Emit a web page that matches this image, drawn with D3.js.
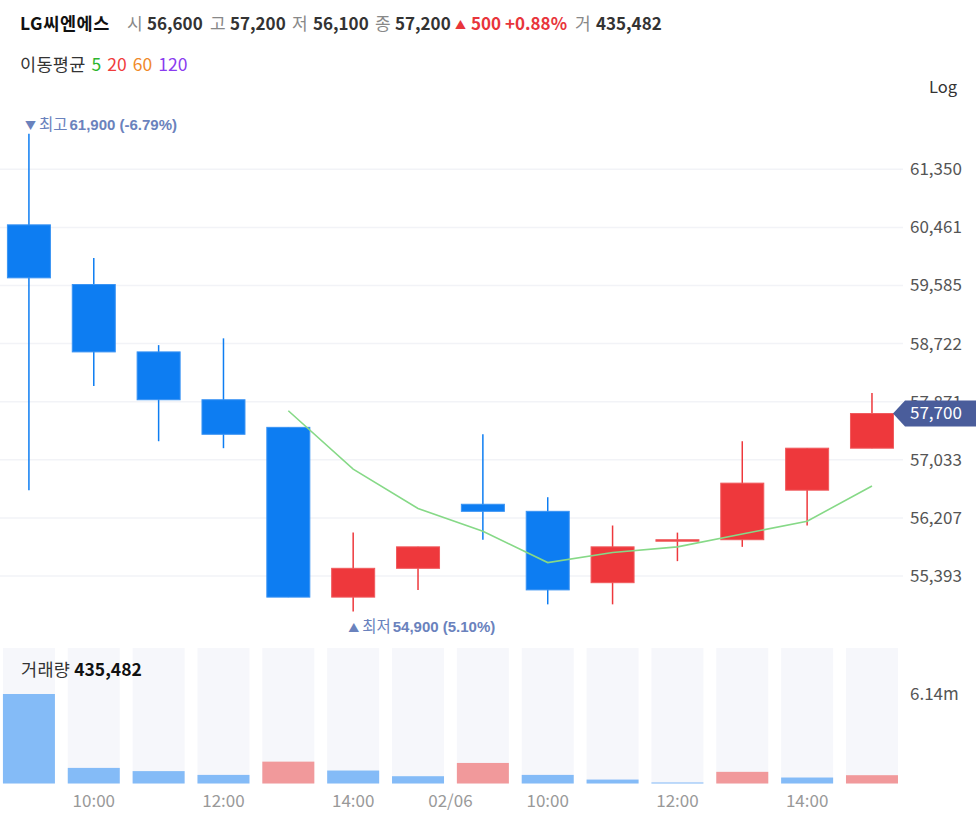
<!DOCTYPE html>
<html>
<head>
<meta charset="utf-8">
<script src="https://cdn.jsdelivr.net/npm/d3@7/dist/d3.min.js"></script>
<style>
  html, body { margin: 0; padding: 0; background: #fff; }
  svg { display: block; font-family: "Noto Sans CJK KR", "Noto Sans", sans-serif; }
</style>
</head>
<body>
<svg id="chart" width="976" height="832"></svg>
<script>
// ---------------- DATA ----------------
const categories = [
  "02/05 09:00", "02/05 10:00", "02/05 11:00", "02/05 12:00", "02/05 13:00", "02/05 14:00", "02/05 15:00",
  "02/06 09:00", "02/06 10:00", "02/06 11:00", "02/06 12:00", "02/06 13:00", "02/06 14:00", "02/06 15:00"
];
const opens  = [60500, 59600, 58600, 57900, 57500, 55100, 55500, 56400, 56300, 55300, 55900, 55900, 56600, 57200];
const highs  = [61900, 60000, 58700, 58800, 57500, 56000, 55800, 57400, 56500, 56100, 56000, 57300, 57200, 58000];
const lows   = [56600, 58100, 57300, 57200, 55100, 54900, 55200, 55900, 55000, 55000, 55600, 55800, 56100, 57200];
const closes = [59700, 58600, 57900, 57400, 55100, 55500, 55800, 56300, 55200, 55800, 55900, 56700, 57200, 57700];
const ma5    = [null, null, null, null, 57740, 56900, 56340, 56020, 55580, 55720, 55800, 55980, 56160, 56660];
const volumes = [6140000, 1070000, 850000, 590000, 1500000, 890000, 500000, 1410000, 590000, 270000, 70000, 800000, 410000, 570000];
const volumeDir = ["down","down","down","down","up","down","down","up","down","down","down","up","down","up"];
const priceTicks = [61350, 60461, 59585, 58722, 57871, 57033, 56207, 55393];
const volumeTicks = [6140000];
const volumeTickLabels = ["6.14m"];
const timeTicks = ["02/05 10:00", "02/05 12:00", "02/05 14:00", "02/06 10:00", "02/06 12:00", "02/06 14:00"];
const dateLabel = "02/06";
const lastPrice = 57700;
const highInfo = { value: 61900, pct: "-6.79%" };
const lowInfo = { value: 54900, pct: "5.10%" };
const header = {
  name: "LG씨엔에스",
  open: "56,600", high: "57,200", low: "56,100", close: "57,200",
  change: "500", changePct: "+0.88%", volume: "435,482"
};
const maPeriods = ["5", "20", "60", "120"];
const volumeTitle = "435,482";

// ---------------- STYLE ----------------
const C = {
  up: "#ee383c", down: "#0d7df2",
  upEdge: "#f05a5d", downEdge: "#3a93f3",
  volUp: "#f1999b", volDown: "#84bbf7",
  volBg: "#f6f7fb", grid: "#f2f3f7",
  ma5: "#86d987", text: "#333", axis: "#555", xaxis: "#999",
  tag: "#4a5d9b", mark: "#6a82bd"
};
const maColors = ["#2db52d", "#f03c3c", "#f08a2a", "#8a3cf0"];

const svg = d3.select("#chart");

// ---------------- SCALES ----------------
const x = d3.scaleBand().domain(categories).range([-3.5, 904.4]).padding(0);
const cx = c => x(c) + x.bandwidth() / 2;
const y = d3.scaleLog().domain([61350, 55393]).range([169.3, 576]);
const vy = d3.scaleLinear().domain([0, 6140000]).range([783.5, 694]);
const plotRight = 903;

// ---------------- HEADER ----------------
const hdr = svg.append("g").attr("font-size", 17);
const hy = 30;
hdr.append("text").attr("x", 20).attr("y", hy).attr("font-weight", 700).attr("fill", "#111")
  .attr("font-size", 17.5).attr("letter-spacing", 0.6).text(header.name);
const hparts = [
  { x: 127, t: "시", w: 400, c: "#888" }, { x: 147, t: header.open, w: 700, c: "#333" },
  { x: 210, t: "고", w: 400, c: "#888" }, { x: 230, t: header.high, w: 700, c: "#333" },
  { x: 292, t: "저", w: 400, c: "#888" }, { x: 313, t: header.low, w: 700, c: "#333" },
  { x: 375, t: "종", w: 400, c: "#888" }, { x: 395, t: header.close, w: 700, c: "#333" },
  { x: 471, t: header.change, w: 700, c: "#e8353b" },
  { x: 505, t: header.changePct, w: 700, c: "#e8353b" },
  { x: 575, t: "거", w: 400, c: "#888" }, { x: 596, t: header.volume, w: 700, c: "#333" }
];
hparts.forEach(p => hdr.append("text").attr("x", p.x).attr("y", hy).attr("font-weight", p.w).attr("fill", p.c).text(p.t));
hdr.append("text").attr("x", 455).attr("y", hy - 1).attr("font-size", 11).attr("fill", "#e8353b").text("▲");

// MA legend
const lg = svg.append("text").attr("x", 20).attr("y", 71).attr("font-size", 17.5);
lg.append("tspan").attr("fill", "#333").attr("letter-spacing", 0.3).text("이동평균");
maPeriods.forEach((p, i) => lg.append("tspan").attr("dx", 6).attr("fill", maColors[i]).text(p));

svg.append("text").attr("x", 957).attr("y", 93).attr("text-anchor", "end").attr("font-size", 16.5).attr("fill", "#333").text("Log");

// ---------------- GRID ----------------
svg.append("g").selectAll("line").data(priceTicks).join("line")
  .attr("x1", 0).attr("x2", plotRight)
  .attr("y1", d => y(d)).attr("y2", d => y(d))
  .attr("stroke", C.grid).attr("stroke-width", 1.5);

// ---------------- PRICE AXIS ----------------
const yAxis = svg.append("g").attr("transform", "translate(910,0)")
  .call(d3.axisRight(y).tickValues(priceTicks).tickFormat(d3.format(",")).tickSize(0).tickPadding(0));
yAxis.select(".domain").remove();
yAxis.selectAll("text").attr("font-size", 17).attr("fill", C.axis)
  .attr("font-family", "'Noto Sans CJK KR', sans-serif");

// ---------------- CANDLES ----------------
const idx = d3.range(categories.length);
const isUp = i => closes[i] >= opens[i];
const candles = svg.append("g");
candles.selectAll("line").data(idx).join("line")
  .attr("x1", i => cx(categories[i])).attr("x2", i => cx(categories[i]))
  .attr("y1", i => y(highs[i])).attr("y2", i => y(lows[i]))
  .attr("stroke", i => isUp(i) ? C.up : C.down)
  .attr("stroke-width", 1.5);
const bodyW = 43;
candles.selectAll("rect").data(idx).join("rect")
  .attr("x", i => cx(categories[i]) - bodyW / 2)
  .attr("width", bodyW)
  .attr("y", i => y(Math.max(opens[i], closes[i])))
  .attr("height", i => Math.max(1.5, Math.abs(y(opens[i]) - y(closes[i]))))
  .attr("fill", i => isUp(i) ? C.up : C.down)
  .attr("stroke", i => isUp(i) ? C.upEdge : C.downEdge)
  .attr("stroke-width", 1);

// ---------------- MA5 ----------------
const maLine = d3.line()
  .defined(d => d[1] != null)
  .x(d => cx(d[0])).y(d => y(d[1]));
svg.append("path")
  .datum(categories.map((c, i) => [c, ma5[i]]))
  .attr("d", maLine).attr("fill", "none")
  .attr("stroke", C.ma5).attr("stroke-width", 1.6);

// ---------------- HIGH / LOW MARKERS ----------------
function marker(txt, xPos, yPos, arrow, label, info) {
  const t = svg.append("text").attr("x", xPos).attr("y", yPos).attr("font-size", 15).attr("fill", C.mark);
  t.append("tspan").attr("font-size", 11).text(arrow);
  t.append("tspan").attr("dx", 3).attr("font-size", 15.5).text(label);
  t.append("tspan").attr("dx", 2).attr("font-weight", 700).attr("font-family", "'Liberation Sans', Arial, sans-serif")
    .text(d3.format(",")(info.value) + " (" + info.pct + ")");
}
const hiIdx = highs.indexOf(highInfo.value);
marker(null, cx(categories[hiIdx]) - 4, y(highInfo.value) - 4, "▼", "최고", highInfo);
const loIdx = lows.indexOf(lowInfo.value);
marker(null, cx(categories[loIdx]) - 5, y(lowInfo.value) + 20, "▲", "최저", lowInfo);

// ---------------- LAST PRICE TAG ----------------
const ty = y(lastPrice);
svg.append("path")
  .attr("d", `M893,${ty} L905,${ty - 13} L976,${ty - 13} L976,${ty + 13} L905,${ty + 13} Z`)
  .attr("fill", C.tag);
svg.append("text").attr("x", 910).attr("y", ty).attr("dy", "0.35em")
  .attr("font-size", 17).attr("fill", "#fff").text(d3.format(",")(lastPrice));

// ---------------- VOLUME ----------------
const volW = 52;
const vg = svg.append("g");
vg.selectAll("rect.bg").data(idx).join("rect").attr("class", "bg")
  .attr("x", i => cx(categories[i]) - volW / 2).attr("width", volW)
  .attr("y", 648).attr("height", vy(0) - 648)
  .attr("fill", C.volBg);
vg.selectAll("rect.v").data(idx).join("rect").attr("class", "v")
  .attr("x", i => cx(categories[i]) - volW / 2).attr("width", volW)
  .attr("y", i => vy(volumes[i])).attr("height", i => vy(0) - vy(volumes[i]))
  .attr("fill", i => volumeDir[i] === "up" ? C.volUp : C.volDown);

const vt = svg.append("text").attr("x", 21).attr("y", 676).attr("font-size", 17.5);
vt.append("tspan").attr("fill", "#333").attr("letter-spacing", 0.3).text("거래량");
vt.append("tspan").attr("dx", 4).attr("font-weight", 700).attr("fill", "#111").text(volumeTitle);

const vAxis = svg.append("g").attr("transform", "translate(910,0)")
  .call(d3.axisRight(vy).tickValues(volumeTicks).tickFormat((d, i) => volumeTickLabels[i]).tickSize(0).tickPadding(0));
vAxis.select(".domain").remove();
vAxis.selectAll("text").attr("font-size", 17).attr("fill", C.axis)
  .attr("font-family", "'Noto Sans CJK KR', sans-serif");

// ---------------- TIME AXIS ----------------
const xAxis = svg.append("g").attr("transform", "translate(0,795)")
  .call(d3.axisBottom(x).tickValues(timeTicks).tickFormat(d => d.split(" ")[1]).tickSize(0).tickPadding(0));
xAxis.select(".domain").remove();
xAxis.selectAll("text").attr("font-size", 17).attr("fill", C.xaxis)
  .attr("font-family", "'Noto Sans CJK KR', sans-serif");
// date boundary label between the two sessions
const dayEnd = categories.filter(c => c.startsWith("02/05")).pop();
const dayStart = categories.find(c => c.startsWith(dateLabel));
svg.append("text")
  .attr("x", (cx(dayEnd) + cx(dayStart)) / 2).attr("y", 795).attr("dy", "0.71em")
  .attr("text-anchor", "middle").attr("font-size", 17).attr("fill", C.xaxis)
  .text(dateLabel);
</script>
</body>
</html>
